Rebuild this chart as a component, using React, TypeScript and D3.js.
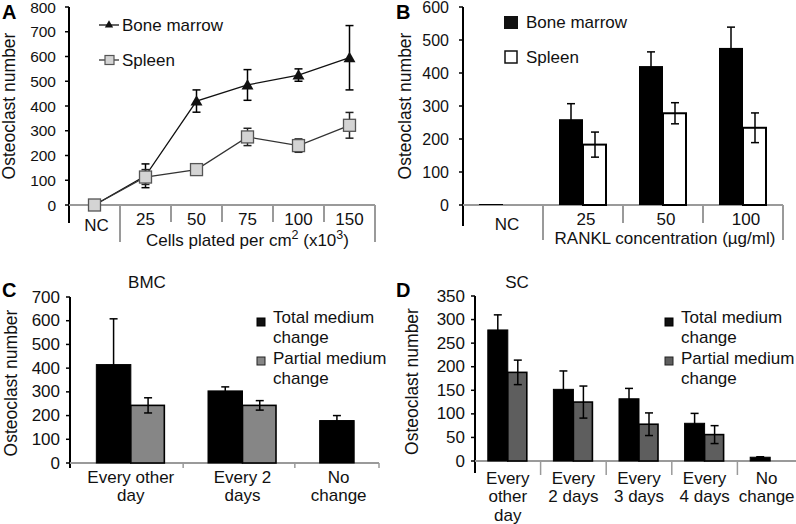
import React from "react";
import * as d3 from "d3";

// ---------- Panel A data ----------
const aCategories = ["NC", "25", "50", "75", "100", "150"];
const aBoneMarrow = [0, 118, 420, 485, 525, 595];
const aBoneMarrowErr = [0, 48, 45, 62, 25, 130];
const aSpleen = [0, 113, 143, 275, 240, 322];
const aSpleenErr = [0, 30, 10, 35, 27, 52];
const aTicks = [0, 100, 200, 300, 400, 500, 600, 700, 800];

// ---------- Panel B data ----------
const bCategories = ["NC", "25", "50", "100"];
const bBoneMarrow = [3, 260, 421, 476];
const bBoneMarrowErr = [0, 47, 43, 63];
const bSpleen = [0, 183, 278, 234];
const bSpleenErr = [0, 38, 32, 45];
const bTicks = [0, 100, 200, 300, 400, 500, 600];

// ---------- Panel C data ----------
const cCategories = ["Every other day", "Every 2 days", "No change"];
const cLabelLines = [["Every other", "day"], ["Every 2", "days"], ["No", "change"]];
const cTotal = [415, 304, 179];
const cTotalErr = [193, 17, 21];
const cPartial: (number | null)[] = [243, 243, null];
const cPartialErr: (number | null)[] = [32, 20, null];
const cTicks = [0, 100, 200, 300, 400, 500, 600, 700];

// ---------- Panel D data ----------
const dCategories = ["Every other day", "Every 2 days", "Every 3 days", "Every 4 days", "No change"];
const dLabelLines = [["Every", "other", "day"], ["Every", "2 days"], ["Every", "3 days"], ["Every", "4 days"], ["No", "change"]];
const dTotal = [278, 152, 132, 80, 8];
const dTotalErr = [32, 39, 22, 21, 1];
const dPartial: (number | null)[] = [188, 125, 78, 56, null];
const dPartialErr: (number | null)[] = [26, 34, 24, 19, null];
const dTicks = [0, 50, 100, 150, 200, 250, 300, 350];

const FONT = "'Liberation Sans', Arial, Helvetica, sans-serif";
const AXIS_GREY = "#9a9a9a";
const LABEL_SIZE = 17;

function ErrorBar({ x, y0, y1, cap = 8, color = "#000" }: { x: number; y0: number; y1: number; cap?: number; color?: string }) {
  return (
    <g stroke={color} strokeWidth={1.5}>
      <line x1={x} x2={x} y1={y0} y2={y1} />
      <line x1={x - cap / 2} x2={x + cap / 2} y1={y0} y2={y0} />
      <line x1={x - cap / 2} x2={x + cap / 2} y1={y1} y2={y1} />
    </g>
  );
}

function YAxis({ scale, ticks, x, top, bottom, labelX, fontSize, titleX, titleY }: any) {
  return (
    <g>
      <line x1={x} x2={x} y1={top} y2={bottom} stroke="#000" strokeWidth={2} />
      {ticks.map((t: number) => (
        <g key={t}>
          <line x1={x - 4} x2={x} y1={scale(t)} y2={scale(t)} stroke="#000" strokeWidth={1.5} />
          <text x={labelX} y={scale(t)} textAnchor="end" dominantBaseline="central" fontSize={fontSize} fontFamily={FONT} fill="#111">
            {t}
          </text>
        </g>
      ))}
      <text
        transform={`translate(${titleX},${titleY}) rotate(-90)`}
        textAnchor="middle"
        dominantBaseline="central"
        fontSize={17.5}
        fontFamily={FONT}
        fill="#111"
      >
        Osteoclast number
      </text>
    </g>
  );
}

function PanelA() {
  const y = d3.scaleLinear().domain([0, 800]).range([205, 7]);
  const x = d3.scaleBand().domain(aCategories).range([69, 375]).padding(0);
  const cx = (c: string) => (x(c) as number) + x.bandwidth() / 2;
  const line = d3
    .line<number>()
    .x((_, i) => cx(aCategories[i]))
    .y((d) => y(d));
  const tri = d3.symbol().type(d3.symbolTriangle).size(62)();
  const triSmall = d3.symbol().type(d3.symbolTriangle).size(30)();
  const end = x.range()[1];
  return (
    <g>
      <text x={2} y={19} fontSize={20} fontWeight="bold" fontFamily={FONT}>A</text>
      <YAxis scale={y} ticks={aTicks} x={69} top={7} bottom={223} labelX={56} fontSize={15.5} titleX={9} titleY={106} />
      <line x1={69} x2={end} y1={205} y2={205} stroke={AXIS_GREY} strokeWidth={2} />
      {aCategories.slice(1).map((c, i) => (
        <line key={c} x1={x(c)} x2={x(c)} y1={205} y2={i === 0 ? 242 : 222} stroke={AXIS_GREY} strokeWidth={2} />
      ))}
      <line x1={end} x2={end} y1={205} y2={242} stroke={AXIS_GREY} strokeWidth={2} />
      {aCategories.map((c, i) => (
        <text key={c} x={cx(c) + (i === 0 ? 2 : 0)} y={i === 0 ? 225 : 219} textAnchor="middle" dominantBaseline="central" fontSize={LABEL_SIZE} fontFamily={FONT} fill="#111">
          {c}
        </text>
      ))}
      <text x={(x(aCategories[1]) as number + end) / 2} y={240} textAnchor="middle" dominantBaseline="central" fontSize={LABEL_SIZE} fontFamily={FONT} fill="#111">
        Cells plated per cm
        <tspan fontSize={12.5} dy={-5}>2</tspan>
        <tspan dy={5}> (x10</tspan>
        <tspan fontSize={12.5} dy={-5}>3</tspan>
        <tspan dy={5}>)</tspan>
      </text>
      {/* lines */}
      <path d={line(aBoneMarrow) as string} fill="none" stroke="#111" strokeWidth={1.3} />
      <path d={line(aSpleen) as string} fill="none" stroke="#333" strokeWidth={1.3} />
      {/* error bars */}
      {aBoneMarrow.map((v, i) =>
        aBoneMarrowErr[i] > 0 ? (
          <ErrorBar key={"be" + i} x={cx(aCategories[i])} y0={y(v + aBoneMarrowErr[i])} y1={y(v - aBoneMarrowErr[i])} />
        ) : null
      )}
      {aSpleen.map((v, i) =>
        aSpleenErr[i] > 0 ? (
          <ErrorBar key={"se" + i} x={cx(aCategories[i])} y0={y(v + aSpleenErr[i])} y1={y(v - aSpleenErr[i])} color="#222" />
        ) : null
      )}
      {/* markers */}
      {aBoneMarrow.map((v, i) => (
        <path key={"bm" + i} d={tri as string} transform={`translate(${cx(aCategories[i])},${y(v) + 1})`} fill="#111" />
      ))}
      {aSpleen.map((v, i) => (
        <rect key={"sm" + i} x={cx(aCategories[i]) - 6} y={y(v) - 6} width={12} height={12} fill="#d4d4d4" stroke="#555" strokeWidth={1.3} />
      ))}
      {/* legend */}
      <line x1={99} x2={119} y1={25} y2={25} stroke="#111" strokeWidth={1.3} />
      <path d={triSmall as string} transform="translate(109,25)" fill="#111" />
      <text x={122} y={25} dominantBaseline="central" fontSize={LABEL_SIZE} fontFamily={FONT} fill="#111">Bone marrow</text>
      <line x1={99} x2={119} y1={60} y2={60} stroke="#333" strokeWidth={1.3} />
      <rect x={105} y={55.5} width={9} height={9} fill="#d4d4d4" stroke="#555" strokeWidth={1.2} />
      <text x={122} y={60} dominantBaseline="central" fontSize={LABEL_SIZE} fontFamily={FONT} fill="#111">Spleen</text>
    </g>
  );
}

function PanelB() {
  const y = d3.scaleLinear().domain([0, 600]).range([205, 7]);
  const x = d3.scaleBand().domain(bCategories).range([463, 783]).padding(0);
  const inner = d3.scaleBand().domain(["bm", "sp"]).range([0, 48]).padding(0);
  const cx = (c: string) => (x(c) as number) + x.bandwidth() / 2;
  const end = x.range()[1];
  return (
    <g>
      <text x={396} y={19} fontSize={20} fontWeight="bold" fontFamily={FONT}>B</text>
      <YAxis scale={y} ticks={bTicks} x={463} top={7} bottom={226} labelX={449} fontSize={16} titleX={405} titleY={106} />
      <line x1={463} x2={end} y1={205} y2={205} stroke={AXIS_GREY} strokeWidth={2} />
      {bCategories.slice(1).map((c, i) => (
        <line key={c} x1={x(c)} x2={x(c)} y1={205} y2={i === 0 ? 240 : 223} stroke={AXIS_GREY} strokeWidth={2} />
      ))}
      <line x1={end} x2={end} y1={205} y2={240} stroke={AXIS_GREY} strokeWidth={2} />
      {/* bars */}
      {bBoneMarrow.map((v, i) => {
        const c = bCategories[i];
        const bx = cx(c) - 24 + (inner("bm") as number);
        return <rect key={"bb" + i} x={bx} y={y(v)} width={inner.bandwidth()} height={y(0) - y(v)} fill="#000" />;
      })}
      {bSpleen.map((v, i) => {
        if (v <= 0) return null;
        const c = bCategories[i];
        const bx = cx(c) - 24 + (inner("sp") as number);
        return <rect key={"bs" + i} x={bx} y={y(v)} width={inner.bandwidth() - 1} height={y(0) - y(v)} fill="#fff" stroke="#000" strokeWidth={2} />;
      })}
      {bBoneMarrow.map((v, i) => {
        if (bBoneMarrowErr[i] <= 0) return null;
        const c = bCategories[i];
        const ex = cx(c) - 24 + (inner("bm") as number) + inner.bandwidth() / 2;
        return <ErrorBar key={"be" + i} x={ex} y0={y(v + bBoneMarrowErr[i])} y1={y(v - bBoneMarrowErr[i])} />;
      })}
      {bSpleen.map((v, i) => {
        if (bSpleenErr[i] <= 0) return null;
        const c = bCategories[i];
        const ex = cx(c) - 24 + (inner("sp") as number) + inner.bandwidth() / 2;
        return <ErrorBar key={"se" + i} x={ex} y0={y(v + bSpleenErr[i])} y1={y(v - bSpleenErr[i])} />;
      })}
      {bCategories.map((c, i) => (
        <text key={c} x={cx(c) + (i === 0 ? 4 : 3)} y={i === 0 ? 224 : 219} textAnchor="middle" dominantBaseline="central" fontSize={LABEL_SIZE} fontFamily={FONT} fill="#111">
          {c}
        </text>
      ))}
      <text x={(x(bCategories[1]) as number + end) / 2 + 2} y={238} textAnchor="middle" dominantBaseline="central" fontSize={LABEL_SIZE} fontFamily={FONT} fill="#111">
        RANKL concentration (µg/ml)
      </text>
      {/* legend */}
      <rect x={504} y={16} width={14} height={13} fill="#111" />
      <text x={526} y={22} dominantBaseline="central" fontSize={LABEL_SIZE} fontFamily={FONT} fill="#111">Bone marrow</text>
      <rect x={505} y={51} width={12} height={12} fill="#fff" stroke="#111" strokeWidth={1.5} />
      <text x={526} y={57} dominantBaseline="central" fontSize={LABEL_SIZE} fontFamily={FONT} fill="#111">Spleen</text>
    </g>
  );
}

function GroupedPanel({
  letter, letterX, title, titleX, categories, labelLines, total, totalErr, partial, partialErr, ticks, yMax,
  yTop, yBottom, axisX, axisEnd, bandRange, barW, partialFill, tickLabelX, sepLen, titleYX, legendX, lineH, firstLabelY, axisBottom,
}: any) {
  const y = d3.scaleLinear().domain([0, yMax]).range([yBottom, yTop]);
  const x = d3.scaleBand().domain(categories).range(bandRange).padding(0);
  const inner = d3.scaleBand().domain(["t", "p"]).range([0, barW * 2]).padding(0);
  const start = (c: string) => (x(c) as number) + x.bandwidth() / 2 - barW;
  const labelX = (c: string) => Math.min((x(c) as number) + x.bandwidth() / 2, ((x(c) as number) + axisEnd) / 2);
  return (
    <g>
      <text x={letterX} y={297} fontSize={20} fontWeight="bold" fontFamily={FONT}>{letter}</text>
      <text x={titleX} y={282} textAnchor="middle" dominantBaseline="central" fontSize={LABEL_SIZE} fontFamily={FONT} fill="#111">{title}</text>
      <YAxis scale={y} ticks={ticks} x={axisX} top={yTop} bottom={axisBottom} labelX={tickLabelX} fontSize={17} titleX={titleYX} titleY={(yTop + yBottom) / 2 + 3} />
      <line x1={axisX} x2={axisEnd} y1={yBottom} y2={yBottom} stroke={AXIS_GREY} strokeWidth={2} />
      {categories.slice(1).map((c: string) => (
        <line key={c} x1={(x(c) as number) - sepLen.offset} x2={(x(c) as number) - sepLen.offset} y1={yBottom} y2={yBottom + sepLen.len} stroke={AXIS_GREY} strokeWidth={1.5} />
      ))}
      {axisEnd < 790 ? (
        <line x1={axisEnd} x2={axisEnd} y1={yBottom} y2={yBottom + sepLen.len} stroke={AXIS_GREY} strokeWidth={1.5} />
      ) : null}
      {total.map((v: number, i: number) => {
        const c = categories[i];
        return <rect key={"t" + i} x={start(c) + (inner("t") as number)} y={y(v)} width={inner.bandwidth()} height={yBottom - y(v)} fill="#000" stroke="#000" strokeWidth={1} />;
      })}
      {partial.map((v: number | null, i: number) => {
        if (v == null) return null;
        const c = categories[i];
        return <rect key={"p" + i} x={start(c) + (inner("p") as number)} y={y(v)} width={inner.bandwidth() - 1} height={yBottom - y(v)} fill={partialFill} stroke="#000" strokeWidth={1.6} />;
      })}
      {total.map((v: number, i: number) => {
        const c = categories[i];
        const e = totalErr[i];
        return <ErrorBar key={"te" + i} x={start(c) + (inner("t") as number) + inner.bandwidth() / 2} y0={y(v + e)} y1={y(v - e)} />;
      })}
      {partial.map((v: number | null, i: number) => {
        if (v == null) return null;
        const c = categories[i];
        const e = partialErr[i] as number;
        return <ErrorBar key={"pe" + i} x={start(c) + (inner("p") as number) + inner.bandwidth() / 2} y0={y(v + e)} y1={y(v - e)} />;
      })}
      {categories.map((c: string, i: number) => (
        <text key={c} textAnchor="middle" fontSize={LABEL_SIZE} fontFamily={FONT} fill="#111">
          {labelLines[i].map((l: string, j: number) => (
            <tspan key={j} x={labelX(c)} y={firstLabelY + j * lineH} dominantBaseline="central">{l}</tspan>
          ))}
        </text>
      ))}
      {/* legend */}
      <rect x={legendX} y={318} width={8} height={8} fill="#111" stroke="#000" strokeWidth={1} />
      <text x={legendX + 16} y={317} dominantBaseline="central" fontSize={LABEL_SIZE} fontFamily={FONT} fill="#111">Total medium</text>
      <text x={legendX + 16} y={337} dominantBaseline="central" fontSize={LABEL_SIZE} fontFamily={FONT} fill="#111">change</text>
      <rect x={legendX} y={357} width={8} height={8} fill={partialFill} stroke="#222" strokeWidth={1} />
      <text x={legendX + 16} y={358} dominantBaseline="central" fontSize={LABEL_SIZE} fontFamily={FONT} fill="#111">Partial medium</text>
      <text x={legendX + 16} y={378} dominantBaseline="central" fontSize={LABEL_SIZE} fontFamily={FONT} fill="#111">change</text>
    </g>
  );
}

export default function App() {
  return (
    <svg width={796} height={524} style={{ position: "absolute", left: 0, top: 0, background: "#fff" }} xmlns="http://www.w3.org/2000/svg">
      <rect width={796} height={524} fill="#fff" />
      <PanelA />
      <PanelB />
      <GroupedPanel
        letter="C" letterX={2} title="BMC" titleX={147}
        categories={cCategories} labelLines={cLabelLines}
        total={cTotal} totalErr={cTotalErr} partial={cPartial} partialErr={cPartialErr}
        ticks={cTicks} yMax={700} yTop={297} yBottom={463}
        axisX={70} axisEnd={379} bandRange={[75, 410]} barW={34.5} partialFill="#868686"
        tickLabelX={60} sepLen={{ offset: 3.5, len: 5 }} titleYX={11} legendX={257}
        lineH={18} firstLabelY={477} axisBottom={468}
      />
      <GroupedPanel
        letter="D" letterX={396} title="SC" titleX={517}
        categories={dCategories} labelLines={dLabelLines}
        total={dTotal} totalErr={dTotalErr} partial={dPartial} partialErr={dPartialErr}
        ticks={dTicks} yMax={350} yTop={296} yBottom={461}
        axisX={475} axisEnd={796} bandRange={[475, 803]} barW={20} partialFill="#5e5e5e"
        tickLabelX={465} sepLen={{ offset: 0, len: 14 }} titleYX={412} legendX={665}
        lineH={18.5} firstLabelY={478} axisBottom={473}
      />
    </svg>
  );
}
